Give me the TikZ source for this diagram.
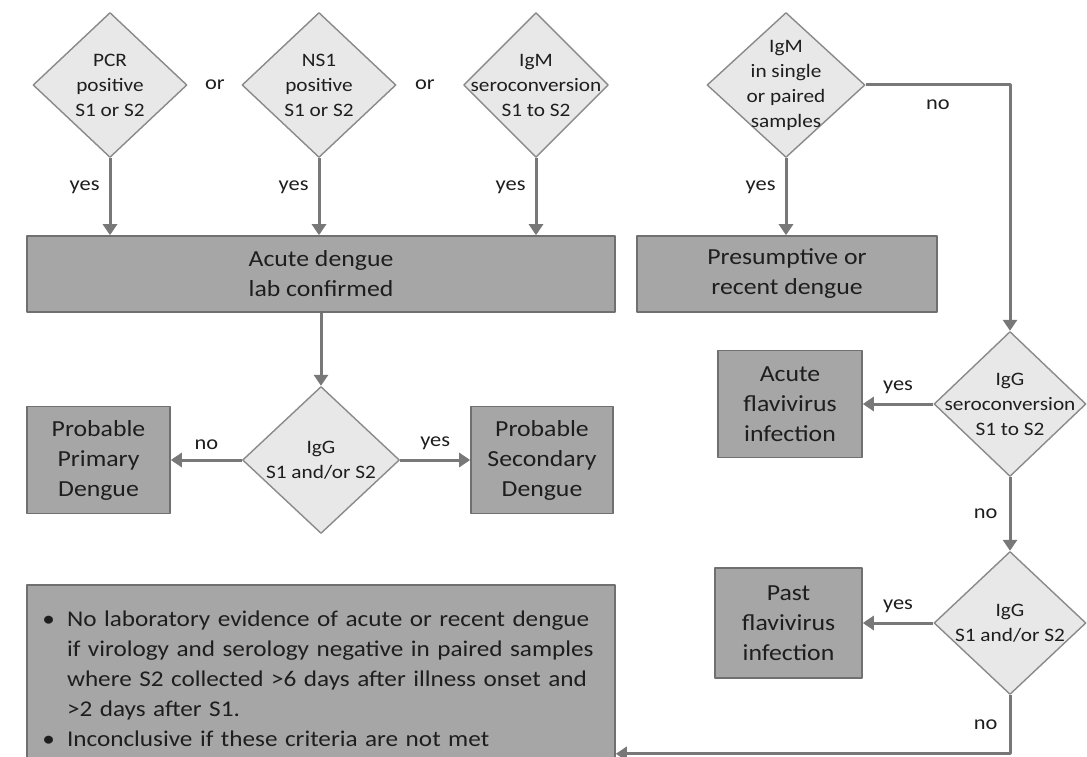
\documentclass[tikz,border=0pt]{standalone}
\usepackage{fontspec}
\setmainfont[FakeStretch=1.12]{Carlito}
\usepackage{tikz}
\usetikzlibrary{shapes.geometric,arrows.meta}
\definecolor{boxfill}{RGB}{166,166,166}
\definecolor{boxline}{RGB}{112,112,112}
\definecolor{diafill}{RGB}{232,232,232}
\definecolor{dialine}{RGB}{138,138,138}
\definecolor{arrgray}{RGB}{120,120,120}
\definecolor{txtgray}{RGB}{30,30,30}
\tikzset{
  box/.style={draw=boxline, fill=boxfill, line width=1.6pt, align=center, text=txtgray,
    font=\fontsize{23}{30}\selectfont, inner sep=0pt},
  dia/.style={diamond, draw=dialine, fill=diafill, line width=1.4pt, inner sep=0pt,
    minimum width=154pt, minimum height=145pt},
  diatext/.style={align=center, text=txtgray, font=\fontsize{19}{25}\selectfont},
  lbl/.style={text=txtgray, font=\fontsize{20}{24}\selectfont, inner sep=3pt},
  arr/.style={draw=arrgray, line width=3pt, -{Triangle[length=11pt,width=14pt]}}
}

\begin{document}
\begin{tikzpicture}[x=1pt,y=-1pt,line join=round]
	\useasboundingbox[fill=white] (0,0) rectangle (1087,757);
	% tests on the left
	\node[dia, label={[diatext]center:PCR\\positive\\S1 or S2}] (pcr) at (110,85) {};
	\node[dia, label={[diatext]center:NS1\\positive\\S1 or S2}] (ns) at (319,85) {};
	\node[dia, minimum width=145pt, label={[diatext]center:IgM\\seroconversion\\S1 to S2}] (igmconv) at (536,85) {};
	\node[lbl] (or1) at (215,85) {or};
	\node[lbl] (or2) at (425,85) {or};
	% IgM test on the right
	\node[dia, minimum width=158pt, label={[diatext]center:IgM\\in single\\or paired\\samples}] (igm) at (786,85) {};

	% outcome boxes, top row
	\node[box, minimum width=588pt, minimum height=76pt] (acute) at (321,274) {Acute dengue\\lab confirmed};
	\node[box, minimum width=300pt, minimum height=76pt] (presum) at (787,274) {Presumptive or\\recent dengue};

	% IgG under the confirmed box
	\node[dia, minimum width=157pt, minimum height=147pt, label={[diatext]center:IgG\\S1 and/or S2}] (iggA) at (321,460) {};
	\node[box, minimum width=143pt, minimum height=107pt] (primary) at (98.5,460) {Probable\\Primary\\Dengue};
	\node[box, minimum width=142pt, minimum height=107pt] (second) at (542,460) {Probable\\Secondary\\Dengue};

	% IgG chain on the right
	\node[dia, minimum width=152pt, label={[diatext]center:IgG\\seroconversion\\S1 to S2}] (iggB) at (1010,404) {};
	\node[dia, minimum width=152pt, minimum height=143pt, label={[diatext]center:IgG\\S1 and/or S2}] (iggC) at (1010,623) {};
	\node[box, minimum width=144pt, minimum height=107pt] (acuteflavi) at (790,404) {Acute\\flavivirus\\infection};
	\node[box, minimum width=147pt, minimum height=110pt] (pastflavi) at (788.5,623) {Past\\flavivirus\\infection};

	% note box
	\node[box, minimum width=588pt, minimum height=174pt, text width=560pt, align=left,
	      font=\fontsize{22.5}{30}\selectfont] (note) at (321,672) {%
		\begin{list}{\textbullet}{\leftmargin=26pt\labelwidth=14pt\labelsep=12pt\itemsep=0pt\topsep=0pt\parsep=0pt}
		\item No laboratory evidence of acute or recent dengue\\
		      if virology and serology negative in paired samples\\
		      where S2 collected >6 days after illness onset and\\
		      >2 days after S1.
		\item Inconclusive if these criteria are not met
		\end{list}};

	% arrows
	\draw[arr] (pcr.south) -- (pcr.south |- acute.north) node[lbl, pos=.38, left=6pt] {yes};
	\draw[arr] (ns.south) -- (ns.south |- acute.north) node[lbl, pos=.38, left=6pt] {yes};
	\draw[arr] (igmconv.south) -- (igmconv.south |- acute.north) node[lbl, pos=.38, left=6pt] {yes};
	\draw[arr] (igm.south) -- (igm.south |- presum.north) node[lbl, pos=.38, left=6pt] {yes};
	\draw[arr] (acute.south) -- (iggA.north);
	\draw[arr] (iggA.west) -- (primary.east) node[lbl, midway, above=6pt] {no};
	\draw[arr] (iggA.east) -- (second.west) node[lbl, midway, above=6pt] {yes};
	\draw[arr] (igm.east) -| (iggB.north) node[lbl, pos=.25, below=10pt] {no};
	\draw[arr] (iggB.west) -- (acuteflavi.east) node[lbl, midway, above=6pt] {yes};
	\draw[arr] (iggB.south) -- (iggC.north) node[lbl, midway, left=8pt] {no};
	\draw[arr] (iggC.west) -- (pastflavi.east) node[lbl, midway, above=6pt] {yes};
	\draw[arr] (iggC.south) |- ([yshift=6pt]note.south east) node[lbl, pos=.25, left=8pt] {no};
\end{tikzpicture}
\end{document}
